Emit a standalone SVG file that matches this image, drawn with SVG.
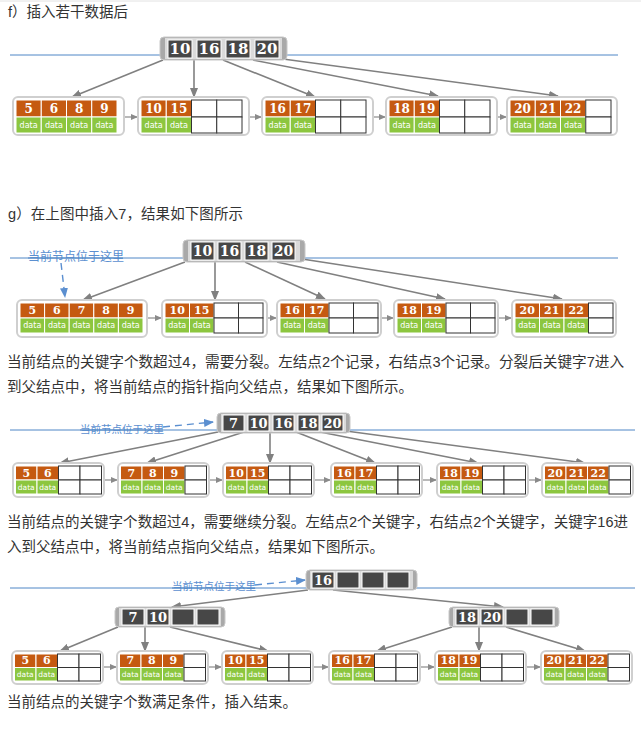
<svg xmlns="http://www.w3.org/2000/svg" width="641" height="732" viewBox="0 0 641 732">
<style>
.bg{fill:#fff}
.fr{fill:#fff;stroke:#cfcfcf;stroke-width:2}
.o{fill:#c55a11;stroke:#fff;stroke-width:1}
.g{fill:#8cc63f;stroke:#fff;stroke-width:1}
.e{fill:#fff;stroke:#333;stroke-width:1}
.ro{fill:#a9a9a9;stroke:#c8c8c8;stroke-width:1}
.ri{fill:#dadada}
.k{fill:#474747;stroke:#fff;stroke-width:1}
.n{font-family:"DejaVu Serif",serif;font-weight:bold;fill:#fff;text-anchor:middle;dominant-baseline:central}
.n15{font-size:15px}.n12{font-size:12px}.n11{font-size:11px}.n14{font-size:14px}.n13{font-size:13px}
.d{font-family:"DejaVu Sans",sans-serif;fill:#fff;text-anchor:middle;dominant-baseline:central;font-size:8px}
.d7{font-size:7.5px}
.t{font-family:"Liberation Sans","Noto Sans CJK SC",sans-serif;fill:#333;font-size:14.5px;dominant-baseline:central}
.lb{font-family:"Noto Sans CJK SC",sans-serif;fill:#5b8fd0;dominant-baseline:central}
.bl{stroke:#4f86c6;stroke-width:1}
.ar{stroke:#808080;stroke-width:1.6;fill:none;marker-end:url(#ah)}
.sa{stroke:#8a8a8a;stroke-width:1.2;fill:none;marker-end:url(#sh)}
.da{stroke:#5b8fd0;stroke-width:1.4;fill:none;stroke-dasharray:7,5;marker-end:url(#bh)}
</style>
<defs>
<marker id="ah" markerWidth="10" markerHeight="8" refX="9" refY="4" orient="auto" markerUnits="userSpaceOnUse"><path d="M0,0 L10,4 L0,8 z" fill="#808080"/></marker>
<marker id="sh" markerWidth="7" markerHeight="6" refX="6" refY="3" orient="auto" markerUnits="userSpaceOnUse"><path d="M0,0 L7,3 L0,6 z" fill="#8a8a8a"/></marker>
<marker id="bh" markerWidth="10" markerHeight="8" refX="9" refY="4" orient="auto" markerUnits="userSpaceOnUse"><path d="M0,0 L10,4 L0,8 z" fill="#5b8fd0"/></marker>
</defs>
<rect class="bg" x="0" y="0" width="641" height="732"/>
<line x1="0" y1="1" x2="641" y2="1" stroke="#e2e2e2" stroke-width="1"/>

<!-- texts -->
<g id="texts">
<text class="t" x="8" y="12" textLength="120" lengthAdjust="spacing">f）插入若干数据后</text>
<text class="t" x="8" y="214" textLength="235" lengthAdjust="spacing">g）在上图中插入7，结果如下图所示</text>
<text class="t" x="7" y="362" textLength="617" lengthAdjust="spacingAndGlyphs">当前结点的关键字个数超过4，需要分裂。左结点2个记录，右结点3个记录。分裂后关键字7进入</text>
<text class="t" x="7" y="387">到父结点中，将当前结点的指针指向父结点，结果如下图所示。</text>
<text class="t" x="7" y="522" textLength="621" lengthAdjust="spacingAndGlyphs">当前结点的关键字个数超过4，需要继续分裂。左结点2个关键字，右结点2个关键字，关键字16进</text>
<text class="t" x="7" y="547">入到父结点中，将当前结点指向父结点，结果如下图所示。</text>
<text class="t" x="7" y="702">当前结点的关键字个数满足条件，插入结束。</text>
</g>

<!-- blue lines -->
<g id="guides">
<line class="bl" x1="10" y1="55" x2="618" y2="55"/>
<line class="bl" x1="10" y1="258" x2="618" y2="258"/>
<line class="bl" x1="10" y1="430" x2="635" y2="430"/>
<line class="bl" x1="10" y1="588" x2="635" y2="588"/>
</g>

<!-- connectors -->
<g id="connectors">
<!-- f -->
<line class="ar" x1="163" y1="60" x2="72" y2="97"/>
<line class="ar" x1="194" y1="60" x2="194" y2="97"/>
<line class="ar" x1="223" y1="60" x2="315" y2="97"/>
<line class="ar" x1="253" y1="60" x2="438" y2="96"/>
<line class="ar" x1="283" y1="59" x2="558" y2="96"/>
<line class="sa" x1="124" y1="117" x2="137" y2="117"/>
<line class="sa" x1="250" y1="117" x2="261" y2="117"/>
<line class="sa" x1="373" y1="117" x2="385" y2="117"/>
<line class="sa" x1="497" y1="117" x2="506" y2="117"/>
<line class="sa" x1="292" y1="128" x2="308" y2="128"/>
<!-- g -->
<line class="ar" x1="185" y1="262" x2="83" y2="300"/>
<line class="ar" x1="215" y1="262" x2="215" y2="300"/>
<line class="ar" x1="245" y1="262" x2="325" y2="299"/>
<line class="ar" x1="277" y1="262" x2="445" y2="299"/>
<line class="ar" x1="302" y1="259" x2="562" y2="299"/>
<line class="sa" x1="147" y1="318" x2="161" y2="318"/>
<line class="sa" x1="267" y1="318" x2="276" y2="318"/>
<line class="sa" x1="381" y1="318" x2="393" y2="318"/>
<line class="sa" x1="498" y1="318" x2="511" y2="318"/>
<line class="da" x1="61" y1="263" x2="65" y2="297"/>
<!-- h -->
<line class="ar" x1="218" y1="432" x2="60" y2="463"/>
<line class="ar" x1="244" y1="432" x2="147" y2="463"/>
<line class="ar" x1="270" y1="432" x2="270" y2="463"/>
<line class="ar" x1="296" y1="432" x2="375" y2="463"/>
<line class="ar" x1="320" y1="432" x2="478" y2="463"/>
<line class="ar" x1="346" y1="431" x2="585" y2="463"/>
<line class="sa" x1="104" y1="480" x2="117" y2="480"/>
<line class="sa" x1="209" y1="480" x2="222" y2="480"/>
<line class="sa" x1="314" y1="480" x2="330" y2="480"/>
<line class="sa" x1="422" y1="480" x2="436" y2="480"/>
<line class="sa" x1="528" y1="480" x2="541" y2="480"/>
<line class="da" x1="163" y1="427" x2="213" y2="422"/>
<!-- i -->
<line class="ar" x1="308" y1="590" x2="172" y2="607"/>
<line class="ar" x1="333" y1="590" x2="503" y2="607"/>
<line class="ar" x1="118" y1="627" x2="60" y2="651"/>
<line class="ar" x1="145" y1="627" x2="145" y2="651"/>
<line class="ar" x1="170" y1="627" x2="268" y2="651"/>
<line class="ar" x1="452" y1="627" x2="377" y2="651"/>
<line class="ar" x1="479" y1="627" x2="479" y2="651"/>
<line class="ar" x1="506" y1="627" x2="585" y2="651"/>
<line class="sa" x1="103" y1="667" x2="116" y2="667"/>
<line class="sa" x1="208" y1="667" x2="221" y2="667"/>
<line class="sa" x1="313" y1="667" x2="328" y2="667"/>
<line class="sa" x1="420" y1="667" x2="434" y2="667"/>
<line class="sa" x1="526" y1="667" x2="540" y2="667"/>
<line class="da" x1="255" y1="585" x2="305" y2="580"/>
</g>

<!-- labels -->
<g id="labels">
<text class="lb" x="28" y="255" font-size="12">当前节点位于这里</text>
<text class="lb" x="80" y="428" font-size="10.5">当前节点位于这里</text>
<text class="lb" x="172" y="585" font-size="10.5">当前节点位于这里</text>
</g>
<g id="guide-overlay">
<line class="bl" x1="28" y1="258" x2="123" y2="258"/>
<line class="bl" x1="80" y1="430" x2="163" y2="430"/>
<line class="bl" x1="172" y1="588" x2="255" y2="588"/>
</g>

<!-- ===== f ===== -->
<g id="f-root">
<rect class="ro" x="160" y="37" width="127" height="23" rx="4"/>
<rect class="ri" x="165" y="38" width="117" height="21"/>
<rect class="k" x="168" y="40" width="24" height="18"/><text class="n n15" x="180" y="49">10</text>
<rect class="k" x="197" y="40" width="24" height="18"/><text class="n n15" x="209" y="49">16</text>
<rect class="k" x="226" y="40" width="24" height="18"/><text class="n n15" x="238" y="49">18</text>
<rect class="k" x="255" y="40" width="24" height="18"/><text class="n n15" x="267" y="49">20</text>
</g>
<g id="f-leaf1">
<rect class="fr" x="13" y="97" width="111" height="38" rx="5"/>
<rect class="o" x="16" y="100" width="25.25" height="17"/><rect class="o" x="41.25" y="100" width="25.25" height="17"/><rect class="o" x="66.5" y="100" width="25.25" height="17"/><rect class="o" x="91.75" y="100" width="25.25" height="17"/>
<rect class="g" x="16" y="117" width="25.25" height="16"/><rect class="g" x="41.25" y="117" width="25.25" height="16"/><rect class="g" x="66.5" y="117" width="25.25" height="16"/><rect class="g" x="91.75" y="117" width="25.25" height="16"/>
<text class="n n12" x="28.6" y="108.5">5</text><text class="n n12" x="53.9" y="108.5">6</text><text class="n n12" x="79.1" y="108.5">8</text><text class="n n12" x="104.4" y="108.5">9</text>
<text class="d" x="28.6" y="125">data</text><text class="d" x="53.9" y="125">data</text><text class="d" x="79.1" y="125">data</text><text class="d" x="104.4" y="125">data</text>
</g>
<g id="f-leaf2">
<rect class="fr" x="138" y="97" width="111" height="38" rx="5"/>
<rect class="o" x="141" y="100" width="25.25" height="17"/><rect class="o" x="166.25" y="100" width="25.25" height="17"/>
<rect class="g" x="141" y="117" width="25.25" height="16"/><rect class="g" x="166.25" y="117" width="25.25" height="16"/>
<rect class="e" x="191.5" y="100" width="25.25" height="17"/><rect class="e" x="216.75" y="100" width="25.25" height="17"/>
<rect class="e" x="191.5" y="117" width="25.25" height="16"/><rect class="e" x="216.75" y="117" width="25.25" height="16"/>
<text class="n n12" x="153.6" y="108.5">10</text><text class="n n12" x="178.9" y="108.5">15</text>
<text class="d" x="153.6" y="125">data</text><text class="d" x="178.9" y="125">data</text>
</g>
<g id="f-leaf3">
<rect class="fr" x="262" y="97" width="111" height="38" rx="5"/>
<rect class="o" x="265" y="100" width="25.25" height="17"/><rect class="o" x="290.25" y="100" width="25.25" height="17"/>
<rect class="g" x="265" y="117" width="25.25" height="16"/><rect class="g" x="290.25" y="117" width="25.25" height="16"/>
<rect class="e" x="315.5" y="100" width="25.25" height="17"/><rect class="e" x="340.75" y="100" width="25.25" height="17"/>
<rect class="e" x="315.5" y="117" width="25.25" height="16"/><rect class="e" x="340.75" y="117" width="25.25" height="16"/>
<text class="n n12" x="277.6" y="108.5">16</text><text class="n n12" x="302.9" y="108.5">17</text>
<text class="d" x="277.6" y="125">data</text><text class="d" x="302.9" y="125">data</text>
</g>
<g id="f-leaf4">
<rect class="fr" x="386" y="97" width="111" height="38" rx="5"/>
<rect class="o" x="389" y="100" width="25.25" height="17"/><rect class="o" x="414.25" y="100" width="25.25" height="17"/>
<rect class="g" x="389" y="117" width="25.25" height="16"/><rect class="g" x="414.25" y="117" width="25.25" height="16"/>
<rect class="e" x="439.5" y="100" width="25.25" height="17"/><rect class="e" x="464.75" y="100" width="25.25" height="17"/>
<rect class="e" x="439.5" y="117" width="25.25" height="16"/><rect class="e" x="464.75" y="117" width="25.25" height="16"/>
<text class="n n12" x="401.6" y="108.5">18</text><text class="n n12" x="426.9" y="108.5">19</text>
<text class="d" x="401.6" y="125">data</text><text class="d" x="426.9" y="125">data</text>
</g>
<g id="f-leaf5">
<rect class="fr" x="507" y="97" width="110" height="38" rx="5"/>
<rect class="o" x="510" y="100" width="25.25" height="17"/><rect class="o" x="535.25" y="100" width="25.25" height="17"/><rect class="o" x="560.5" y="100" width="25.25" height="17"/>
<rect class="g" x="510" y="117" width="25.25" height="16"/><rect class="g" x="535.25" y="117" width="25.25" height="16"/><rect class="g" x="560.5" y="117" width="25.25" height="16"/>
<rect class="e" x="585.75" y="100" width="25.25" height="17"/><rect class="e" x="585.75" y="117" width="25.25" height="16"/>
<text class="n n12" x="522.6" y="108.5">20</text><text class="n n12" x="547.9" y="108.5">21</text><text class="n n12" x="573.1" y="108.5">22</text>
<text class="d" x="522.6" y="125">data</text><text class="d" x="547.9" y="125">data</text><text class="d" x="573.1" y="125">data</text>
</g>

<!-- ===== g ===== -->
<g id="g-root">
<rect class="ro" x="183" y="240" width="122" height="22" rx="4"/>
<rect class="ri" x="188" y="241" width="112" height="20"/>
<rect class="k" x="191" y="242" width="23" height="18"/><text class="n n14" x="202.5" y="251">10</text>
<rect class="k" x="218" y="242" width="23" height="18"/><text class="n n14" x="229.5" y="251">16</text>
<rect class="k" x="245" y="242" width="23" height="18"/><text class="n n14" x="256.5" y="251">18</text>
<rect class="k" x="272" y="242" width="23" height="18"/><text class="n n14" x="283.5" y="251">20</text>
</g>
<g id="g-leaf1">
<rect class="fr" x="17" y="300" width="130" height="37" rx="5"/>
<rect class="o" x="20" y="303" width="24.6" height="15"/><rect class="o" x="44.6" y="303" width="24.6" height="15"/><rect class="o" x="69.2" y="303" width="24.6" height="15"/><rect class="o" x="93.8" y="303" width="24.6" height="15"/><rect class="o" x="118.4" y="303" width="24.6" height="15"/>
<rect class="g" x="20" y="318" width="24.6" height="15"/><rect class="g" x="44.6" y="318" width="24.6" height="15"/><rect class="g" x="69.2" y="318" width="24.6" height="15"/><rect class="g" x="93.8" y="318" width="24.6" height="15"/><rect class="g" x="118.4" y="318" width="24.6" height="15"/>
<text class="n n11" x="32.3" y="310.5">5</text><text class="n n11" x="56.9" y="310.5">6</text><text class="n n11" x="81.5" y="310.5">7</text><text class="n n11" x="106.1" y="310.5">8</text><text class="n n11" x="130.7" y="310.5">9</text>
<text class="d" x="32.3" y="325.5">data</text><text class="d" x="56.9" y="325.5">data</text><text class="d" x="81.5" y="325.5">data</text><text class="d" x="106.1" y="325.5">data</text><text class="d" x="130.7" y="325.5">data</text>
</g>
<g id="g-leaf2">
<rect class="fr" x="162" y="300" width="105" height="37" rx="5"/>
<rect class="o" x="165" y="303" width="24.5" height="15"/><rect class="o" x="189.5" y="303" width="24.5" height="15"/>
<rect class="g" x="165" y="318" width="24.5" height="15"/><rect class="g" x="189.5" y="318" width="24.5" height="15"/>
<rect class="e" x="214" y="303" width="24.5" height="15"/><rect class="e" x="238.5" y="303" width="24.5" height="15"/>
<rect class="e" x="214" y="318" width="24.5" height="15"/><rect class="e" x="238.5" y="318" width="24.5" height="15"/>
<text class="n n11" x="177.25" y="310.5">10</text><text class="n n11" x="201.75" y="310.5">15</text>
<text class="d" x="177.25" y="325.5">data</text><text class="d" x="201.75" y="325.5">data</text>
</g>
<g id="g-leaf3">
<rect class="fr" x="277" y="300" width="104" height="37" rx="5"/>
<rect class="o" x="280" y="303" width="24.5" height="15"/><rect class="o" x="304.5" y="303" width="24.5" height="15"/>
<rect class="g" x="280" y="318" width="24.5" height="15"/><rect class="g" x="304.5" y="318" width="24.5" height="15"/>
<rect class="e" x="329" y="303" width="24.5" height="15"/><rect class="e" x="353.5" y="303" width="24.5" height="15"/>
<rect class="e" x="329" y="318" width="24.5" height="15"/><rect class="e" x="353.5" y="318" width="24.5" height="15"/>
<text class="n n11" x="292.25" y="310.5">16</text><text class="n n11" x="316.75" y="310.5">17</text>
<text class="d" x="292.25" y="325.5">data</text><text class="d" x="316.75" y="325.5">data</text>
</g>
<g id="g-leaf4">
<rect class="fr" x="394" y="300" width="104" height="37" rx="5"/>
<rect class="o" x="397" y="303" width="24.5" height="15"/><rect class="o" x="421.5" y="303" width="24.5" height="15"/>
<rect class="g" x="397" y="318" width="24.5" height="15"/><rect class="g" x="421.5" y="318" width="24.5" height="15"/>
<rect class="e" x="446" y="303" width="24.5" height="15"/><rect class="e" x="470.5" y="303" width="24.5" height="15"/>
<rect class="e" x="446" y="318" width="24.5" height="15"/><rect class="e" x="470.5" y="318" width="24.5" height="15"/>
<text class="n n11" x="409.25" y="310.5">18</text><text class="n n11" x="433.75" y="310.5">19</text>
<text class="d" x="409.25" y="325.5">data</text><text class="d" x="433.75" y="325.5">data</text>
</g>
<g id="g-leaf5">
<rect class="fr" x="512" y="300" width="104" height="37" rx="5"/>
<rect class="o" x="515" y="303" width="24.5" height="15"/><rect class="o" x="539.5" y="303" width="24.5" height="15"/><rect class="o" x="564" y="303" width="24.5" height="15"/>
<rect class="g" x="515" y="318" width="24.5" height="15"/><rect class="g" x="539.5" y="318" width="24.5" height="15"/><rect class="g" x="564" y="318" width="24.5" height="15"/>
<rect class="e" x="588.5" y="303" width="24.5" height="15"/><rect class="e" x="588.5" y="318" width="24.5" height="15"/>
<text class="n n11" x="527.25" y="310.5">20</text><text class="n n11" x="551.75" y="310.5">21</text><text class="n n11" x="576.25" y="310.5">22</text>
<text class="d" x="527.25" y="325.5">data</text><text class="d" x="551.75" y="325.5">data</text><text class="d" x="576.25" y="325.5">data</text>
</g>

<!-- ===== h ===== -->
<g id="h-root">
<rect class="ro" x="217" y="413" width="133" height="20" rx="4"/>
<rect class="ri" x="221" y="414" width="125" height="18"/>
<rect class="k" x="223" y="415" width="21" height="16"/><text class="n n13" x="233.5" y="423">7</text>
<rect class="k" x="248" y="415" width="21" height="16"/><text class="n n13" x="258.5" y="423">10</text>
<rect class="k" x="273" y="415" width="21" height="16"/><text class="n n13" x="283.5" y="423">16</text>
<rect class="k" x="298" y="415" width="21" height="16"/><text class="n n13" x="308.5" y="423">18</text>
<rect class="k" x="322" y="415" width="21" height="16"/><text class="n n13" x="332.5" y="423">20</text>
</g>
<g id="h-leaf1">
<rect class="fr" x="13" y="463" width="91" height="34" rx="5"/>
<rect class="o" x="15.5" y="466" width="21.5" height="14"/><rect class="o" x="37" y="466" width="21.5" height="14"/>
<rect class="g" x="15.5" y="480" width="21.5" height="14"/><rect class="g" x="37" y="480" width="21.5" height="14"/>
<rect class="e" x="58.5" y="466" width="21.5" height="14"/><rect class="e" x="80" y="466" width="21.5" height="14"/>
<rect class="e" x="58.5" y="480" width="21.5" height="14"/><rect class="e" x="80" y="480" width="21.5" height="14"/>
<text class="n n11" x="26.25" y="473">5</text><text class="n n11" x="47.75" y="473">6</text>
<text class="d d7" x="26.25" y="487">data</text><text class="d d7" x="47.75" y="487">data</text>
</g>
<g id="h-leaf2">
<rect class="fr" x="118" y="463" width="91" height="34" rx="5"/>
<rect class="o" x="120.5" y="466" width="21.5" height="14"/><rect class="o" x="142" y="466" width="21.5" height="14"/><rect class="o" x="163.5" y="466" width="21.5" height="14"/>
<rect class="g" x="120.5" y="480" width="21.5" height="14"/><rect class="g" x="142" y="480" width="21.5" height="14"/><rect class="g" x="163.5" y="480" width="21.5" height="14"/>
<rect class="e" x="185" y="466" width="21.5" height="14"/><rect class="e" x="185" y="480" width="21.5" height="14"/>
<text class="n n11" x="131.25" y="473">7</text><text class="n n11" x="152.75" y="473">8</text><text class="n n11" x="174.25" y="473">9</text>
<text class="d d7" x="131.25" y="487">data</text><text class="d d7" x="152.75" y="487">data</text><text class="d d7" x="174.25" y="487">data</text>
</g>
<g id="h-leaf3">
<rect class="fr" x="223" y="463" width="91" height="34" rx="5"/>
<rect class="o" x="225.5" y="466" width="21.5" height="14"/><rect class="o" x="247" y="466" width="21.5" height="14"/>
<rect class="g" x="225.5" y="480" width="21.5" height="14"/><rect class="g" x="247" y="480" width="21.5" height="14"/>
<rect class="e" x="268.5" y="466" width="21.5" height="14"/><rect class="e" x="290" y="466" width="21.5" height="14"/>
<rect class="e" x="268.5" y="480" width="21.5" height="14"/><rect class="e" x="290" y="480" width="21.5" height="14"/>
<text class="n n11" x="236.25" y="473">10</text><text class="n n11" x="257.75" y="473">15</text>
<text class="d d7" x="236.25" y="487">data</text><text class="d d7" x="257.75" y="487">data</text>
</g>
<g id="h-leaf4">
<rect class="fr" x="331" y="463" width="91" height="34" rx="5"/>
<rect class="o" x="333.5" y="466" width="21.5" height="14"/><rect class="o" x="355" y="466" width="21.5" height="14"/>
<rect class="g" x="333.5" y="480" width="21.5" height="14"/><rect class="g" x="355" y="480" width="21.5" height="14"/>
<rect class="e" x="376.5" y="466" width="21.5" height="14"/><rect class="e" x="398" y="466" width="21.5" height="14"/>
<rect class="e" x="376.5" y="480" width="21.5" height="14"/><rect class="e" x="398" y="480" width="21.5" height="14"/>
<text class="n n11" x="344.25" y="473">16</text><text class="n n11" x="365.75" y="473">17</text>
<text class="d d7" x="344.25" y="487">data</text><text class="d d7" x="365.75" y="487">data</text>
</g>
<g id="h-leaf5">
<rect class="fr" x="437" y="463" width="91" height="34" rx="5"/>
<rect class="o" x="439.5" y="466" width="21.5" height="14"/><rect class="o" x="461" y="466" width="21.5" height="14"/>
<rect class="g" x="439.5" y="480" width="21.5" height="14"/><rect class="g" x="461" y="480" width="21.5" height="14"/>
<rect class="e" x="482.5" y="466" width="21.5" height="14"/><rect class="e" x="504" y="466" width="21.5" height="14"/>
<rect class="e" x="482.5" y="480" width="21.5" height="14"/><rect class="e" x="504" y="480" width="21.5" height="14"/>
<text class="n n11" x="450.25" y="473">18</text><text class="n n11" x="471.75" y="473">19</text>
<text class="d d7" x="450.25" y="487">data</text><text class="d d7" x="471.75" y="487">data</text>
</g>
<g id="h-leaf6">
<rect class="fr" x="542" y="463" width="91" height="34" rx="5"/>
<rect class="o" x="544.5" y="466" width="21.5" height="14"/><rect class="o" x="566" y="466" width="21.5" height="14"/><rect class="o" x="587.5" y="466" width="21.5" height="14"/>
<rect class="g" x="544.5" y="480" width="21.5" height="14"/><rect class="g" x="566" y="480" width="21.5" height="14"/><rect class="g" x="587.5" y="480" width="21.5" height="14"/>
<rect class="e" x="609" y="466" width="21.5" height="14"/><rect class="e" x="609" y="480" width="21.5" height="14"/>
<text class="n n11" x="555.25" y="473">20</text><text class="n n11" x="576.75" y="473">21</text><text class="n n11" x="598.25" y="473">22</text>
<text class="d d7" x="555.25" y="487">data</text><text class="d d7" x="576.75" y="487">data</text><text class="d d7" x="598.25" y="487">data</text>
</g>

<!-- ===== i ===== -->
<g id="i-root">
<rect class="ro" x="306" y="570" width="111" height="20" rx="4"/>
<rect class="ri" x="310" y="571" width="103" height="18"/>
<rect class="k" x="312" y="572" width="22" height="16"/><text class="n n13" x="323" y="580">16</text>
<rect class="k" x="337" y="572" width="22" height="16"/>
<rect class="k" x="362" y="572" width="22" height="16"/>
<rect class="k" x="387" y="572" width="22" height="16"/>
</g>
<g id="i-mid-left">
<rect class="ro" x="115" y="607" width="110" height="20" rx="4"/>
<rect class="ri" x="119" y="608" width="102" height="18"/>
<rect class="k" x="122" y="609" width="22" height="16"/><text class="n n13" x="133" y="617">7</text>
<rect class="k" x="147" y="609" width="22" height="16"/><text class="n n13" x="158" y="617">10</text>
<rect class="k" x="172" y="609" width="22" height="16"/>
<rect class="k" x="197" y="609" width="22" height="16"/>
</g>
<g id="i-mid-right">
<rect class="ro" x="449" y="607" width="110" height="20" rx="4"/>
<rect class="ri" x="453" y="608" width="102" height="18"/>
<rect class="k" x="456" y="609" width="22" height="16"/><text class="n n13" x="467" y="617">18</text>
<rect class="k" x="481" y="609" width="22" height="16"/><text class="n n13" x="492" y="617">20</text>
<rect class="k" x="506" y="609" width="22" height="16"/>
<rect class="k" x="531" y="609" width="22" height="16"/>
</g>
<g id="i-leaf1">
<rect class="fr" x="12" y="651" width="91" height="33" rx="5"/>
<rect class="o" x="14.5" y="654" width="21.5" height="13.5"/><rect class="o" x="36" y="654" width="21.5" height="13.5"/>
<rect class="g" x="14.5" y="667.5" width="21.5" height="13.5"/><rect class="g" x="36" y="667.5" width="21.5" height="13.5"/>
<rect class="e" x="57.5" y="654" width="21.5" height="13.5"/><rect class="e" x="79" y="654" width="21.5" height="13.5"/>
<rect class="e" x="57.5" y="667.5" width="21.5" height="13.5"/><rect class="e" x="79" y="667.5" width="21.5" height="13.5"/>
<text class="n n11" x="25.25" y="660.75">5</text><text class="n n11" x="46.75" y="660.75">6</text>
<text class="d d7" x="25.25" y="674.25">data</text><text class="d d7" x="46.75" y="674.25">data</text>
</g>
<g id="i-leaf2">
<rect class="fr" x="117" y="651" width="91" height="33" rx="5"/>
<rect class="o" x="119.5" y="654" width="21.5" height="13.5"/><rect class="o" x="141" y="654" width="21.5" height="13.5"/><rect class="o" x="162.5" y="654" width="21.5" height="13.5"/>
<rect class="g" x="119.5" y="667.5" width="21.5" height="13.5"/><rect class="g" x="141" y="667.5" width="21.5" height="13.5"/><rect class="g" x="162.5" y="667.5" width="21.5" height="13.5"/>
<rect class="e" x="184" y="654" width="21.5" height="13.5"/><rect class="e" x="184" y="667.5" width="21.5" height="13.5"/>
<text class="n n11" x="130.25" y="660.75">7</text><text class="n n11" x="151.75" y="660.75">8</text><text class="n n11" x="173.25" y="660.75">9</text>
<text class="d d7" x="130.25" y="674.25">data</text><text class="d d7" x="151.75" y="674.25">data</text><text class="d d7" x="173.25" y="674.25">data</text>
</g>
<g id="i-leaf3">
<rect class="fr" x="222" y="651" width="91" height="33" rx="5"/>
<rect class="o" x="224.5" y="654" width="21.5" height="13.5"/><rect class="o" x="246" y="654" width="21.5" height="13.5"/>
<rect class="g" x="224.5" y="667.5" width="21.5" height="13.5"/><rect class="g" x="246" y="667.5" width="21.5" height="13.5"/>
<rect class="e" x="267.5" y="654" width="21.5" height="13.5"/><rect class="e" x="289" y="654" width="21.5" height="13.5"/>
<rect class="e" x="267.5" y="667.5" width="21.5" height="13.5"/><rect class="e" x="289" y="667.5" width="21.5" height="13.5"/>
<text class="n n11" x="235.25" y="660.75">10</text><text class="n n11" x="256.75" y="660.75">15</text>
<text class="d d7" x="235.25" y="674.25">data</text><text class="d d7" x="256.75" y="674.25">data</text>
</g>
<g id="i-leaf4">
<rect class="fr" x="329" y="651" width="91" height="33" rx="5"/>
<rect class="o" x="331.5" y="654" width="21.5" height="13.5"/><rect class="o" x="353" y="654" width="21.5" height="13.5"/>
<rect class="g" x="331.5" y="667.5" width="21.5" height="13.5"/><rect class="g" x="353" y="667.5" width="21.5" height="13.5"/>
<rect class="e" x="374.5" y="654" width="21.5" height="13.5"/><rect class="e" x="396" y="654" width="21.5" height="13.5"/>
<rect class="e" x="374.5" y="667.5" width="21.5" height="13.5"/><rect class="e" x="396" y="667.5" width="21.5" height="13.5"/>
<text class="n n11" x="342.25" y="660.75">16</text><text class="n n11" x="363.75" y="660.75">17</text>
<text class="d d7" x="342.25" y="674.25">data</text><text class="d d7" x="363.75" y="674.25">data</text>
</g>
<g id="i-leaf5">
<rect class="fr" x="435" y="651" width="91" height="33" rx="5"/>
<rect class="o" x="437.5" y="654" width="21.5" height="13.5"/><rect class="o" x="459" y="654" width="21.5" height="13.5"/>
<rect class="g" x="437.5" y="667.5" width="21.5" height="13.5"/><rect class="g" x="459" y="667.5" width="21.5" height="13.5"/>
<rect class="e" x="480.5" y="654" width="21.5" height="13.5"/><rect class="e" x="502" y="654" width="21.5" height="13.5"/>
<rect class="e" x="480.5" y="667.5" width="21.5" height="13.5"/><rect class="e" x="502" y="667.5" width="21.5" height="13.5"/>
<text class="n n11" x="448.25" y="660.75">18</text><text class="n n11" x="469.75" y="660.75">19</text>
<text class="d d7" x="448.25" y="674.25">data</text><text class="d d7" x="469.75" y="674.25">data</text>
</g>
<g id="i-leaf6">
<rect class="fr" x="541" y="651" width="91" height="33" rx="5"/>
<rect class="o" x="543.5" y="654" width="21.5" height="13.5"/><rect class="o" x="565" y="654" width="21.5" height="13.5"/><rect class="o" x="586.5" y="654" width="21.5" height="13.5"/>
<rect class="g" x="543.5" y="667.5" width="21.5" height="13.5"/><rect class="g" x="565" y="667.5" width="21.5" height="13.5"/><rect class="g" x="586.5" y="667.5" width="21.5" height="13.5"/>
<rect class="e" x="608" y="654" width="21.5" height="13.5"/><rect class="e" x="608" y="667.5" width="21.5" height="13.5"/>
<text class="n n11" x="554.25" y="660.75">20</text><text class="n n11" x="575.75" y="660.75">21</text><text class="n n11" x="597.25" y="660.75">22</text>
<text class="d d7" x="554.25" y="674.25">data</text><text class="d d7" x="575.75" y="674.25">data</text><text class="d d7" x="597.25" y="674.25">data</text>
</g>
</svg>
